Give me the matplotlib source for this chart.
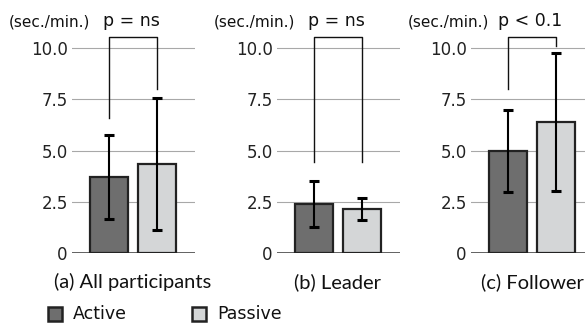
import matplotlib
matplotlib.use("Agg")
import matplotlib.pyplot as plt
from matplotlib.patches import Rectangle

# values (sec./min.)
panels = ["(a) All participants", "(b) Leader", "(c) Follower"]
p_labels = ["p = ns", "p = ns", "p < 0.1"]
active_mean = [3.72, 2.39, 5.0]
active_err = [2.05, 1.12, 2.0]
passive_mean = [4.34, 2.15, 6.39]
passive_err = [3.22, 0.55, 3.35]
# bracket leg ends (left, right)
bracket_legs = [(6.6, 8.0), (4.45, 4.45), (8.0, 10.1)]
yticks = [0, 2.5, 5.0, 7.5, 10.0]
yticklabels = ["0", "2.5", "5.0", "7.5", "10.0"]
legend_labels = ["Active", "Passive"]

W, H = 585, 324
fig = plt.figure(figsize=(W / 100, H / 100), dpi=100)

c_active = "#6e6e6e"
c_passive = "#d4d6d7"
edge = "#222222"

ax_left = [72, 277, 471]   # pixel left of each axes
unit = 48.0                # px per x unit
xmin = -0.77
ax_w = 123
y0, ppu = 253, 20.5        # baseline pixel, px per unit
ytop = 11.0

for i in range(3):
    ax = fig.add_axes([ax_left[i] / W, (H - y0) / H, ax_w / W, ytop * ppu / H])
    ax.set_xlim(xmin, xmin + ax_w / unit)
    ax.set_ylim(0, ytop)
    for s in ax.spines.values():
        s.set_visible(False)
    for yv in yticks[1:]:
        ax.axhline(yv, color="#a8a8a8", lw=0.8, zorder=0)
    ax.axhline(0, color="#555555", lw=1.3, zorder=0)
    ax.set_yticks(yticks)
    ax.set_yticklabels(yticklabels, fontsize=12, family="DejaVu Sans", color="#222222")
    ax.tick_params(axis="y", length=0, pad=3)
    ax.set_xticks([])

    ax.bar([0, 1], [active_mean[i], passive_mean[i]], width=0.8,
           color=[c_active, c_passive], edgecolor=edge, linewidth=1.6, zorder=2)
    ax.errorbar([0, 1], [active_mean[i], passive_mean[i]],
                yerr=[active_err[i], passive_err[i]], fmt="none",
                ecolor="black", elinewidth=1.5, capsize=3.5, capthick=2.2, zorder=3)

    top = 10.55
    l, r = bracket_legs[i]
    ax.plot([0, 0, 1, 1], [l, top, top, r], color="#111111", lw=1.0,
            clip_on=False, zorder=3)

    ax.text(-0.4, 11.05, "(sec./min.)", fontsize=11, family="DejaVu Sans",
            ha="right", va="baseline", color="#111111")
    ax.text(-0.12 if i < 2 else -0.2, 11.05, p_labels[i], fontsize=12.5,
            family="DejaVu Sans", ha="left", va="baseline", color="#111111")
    ax.text(0.5, -1.72, panels[i], fontsize=14.5, family="Lato",
            ha="center", va="baseline", color="#111111")

# legend
for j, (lab, col, x) in enumerate(zip(legend_labels, [c_active, c_passive], [48, 192])):
    fig.patches.append(Rectangle((x / W, (H - 321) / H), 14 / W, 14 / H,
                                 transform=fig.transFigure, facecolor=col,
                                 edgecolor=edge, linewidth=1.8))
    fig.text((x + 25) / W, (H - 319) / H, lab, fontsize=12.5,
             family="DejaVu Sans", ha="left", va="baseline", color="#111111")

fig.savefig("out.png", dpi=100)
